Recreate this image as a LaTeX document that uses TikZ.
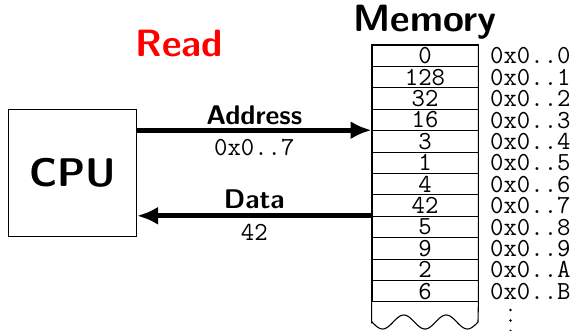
\documentclass[tikz,border=0pt]{standalone}
\usetikzlibrary{arrows.meta}
\definecolor{readred}{RGB}{255,0,0}
\begin{document}
\begin{tikzpicture}[x=1pt,y=-1pt,
  heading/.style={font=\sffamily\bfseries\fontsize{38}{40}\selectfont, inner sep=0pt},
  buslabel/.style={font=\sffamily\bfseries\fontsize{27}{29}\selectfont, inner sep=0pt},
  mono/.style={font=\ttfamily\fontsize{26}{28}\selectfont, inner sep=0pt},
  cell/.style={mono, draw, line width=0.8pt, minimum width=106pt, minimum height=21.4pt},
  memline/.style={line width=1.1pt},
  bus/.style={line width=4.8pt, -{Latex[length=21pt,width=18pt]}},
]
\useasboundingbox (0,0) rectangle (574,331);

% processor
\node[draw, line width=1pt, minimum width=128pt, minimum height=127pt,
      font=\sffamily\bfseries\fontsize{40}{42}\selectfont] (cpu) at (72.5,173) {CPU};

% headings
\node[heading, anchor=base] (mem) at (425,32) {Memory};
\node[heading, text=readred, anchor=base] (read) at (179.5,57) {Read};

% memory cells with their contents, and the addresses beside them
\foreach \v/\h [count=\i from 0] in {0/0,128/1,32/2,16/3,3/4,1/5,4/6,42/7,5/8,9/9,2/A,6/B}{
  \node[cell] (m\i) at (425,{45+21.4*\i+10.7}) {\v};
  \node[mono, anchor=base west] (a\i) at (490,{45+21.4*(\i+1)-2.5}) {0x0..\h};
}

% open-ended bottom of the memory
\draw[memline] (m0.north west) -- (m11.south west) -- ++(0,20.2)
  -- plot[domain=0:106, samples=80] ({372+\x},{322+7*sin(8.4906*\x)})
  -- (m11.south east) -- (m0.north east) -- cycle;

% continuation dots
\foreach \y in {310,320.5,331}
  \fill (510.5,\y) circle (1.4pt);

% buses
\draw[bus] (cpu.east |- m4.north west) -- (m4.north west)
  node[buslabel, midway, anchor=base, yshift=5.6pt] (addr) {Address}
  node[mono, midway, yshift=-17pt] (addrval) {0x0..7};
\draw[bus] (m8.north west) -- (cpu.east |- m8.north west)
  node[buslabel, midway, anchor=base, yshift=7.2pt] (data) {Data}
  node[mono, midway, yshift=-16.3pt] (dataval) {42};
\end{tikzpicture}
\end{document}
